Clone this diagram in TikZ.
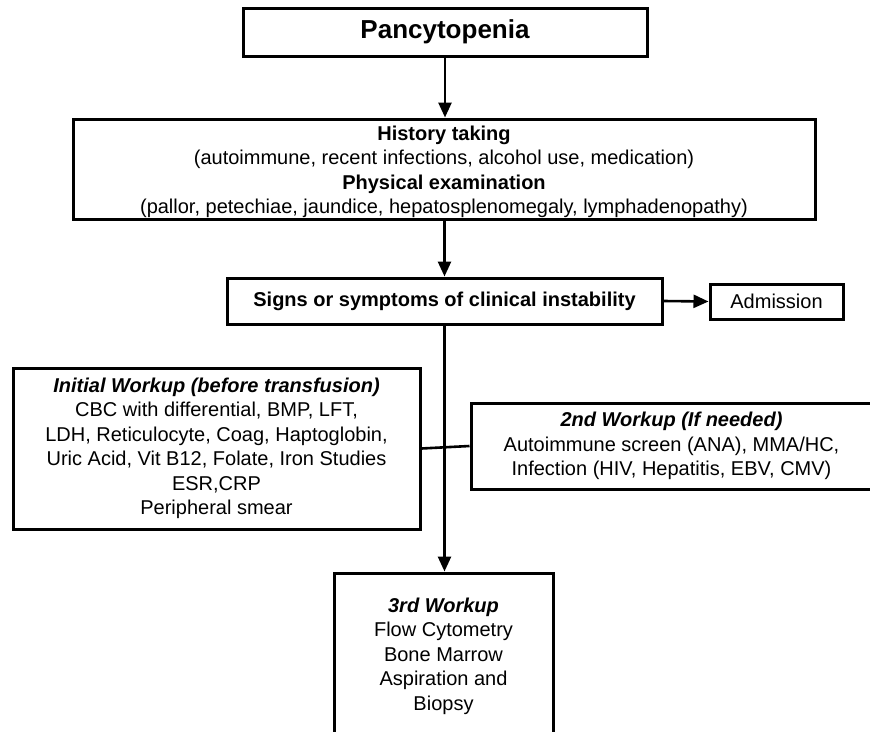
\documentclass[tikz,border=0pt]{standalone}
\usepackage{fontspec}
\setmainfont{Liberation Sans}
\usetikzlibrary{arrows.meta}
\begin{document}
\begin{tikzpicture}[x=1pt,y=-1pt,
 box/.style={draw,line width=3pt,align=center,inner sep=0pt,font=\fontsize{20}{24.5}\selectfont},
 conn/.style={line width=2.6pt},
 arr/.style={conn,-{Triangle[length=15pt,width=13pt]}}]
\useasboundingbox (0,0) rectangle (870,731);
\node[box,minimum width=404pt,minimum height=48pt,font=\fontsize{26}{30}\selectfont\bfseries] (pan) at (445,32) {Pancytopenia};
\node[box,minimum width=742pt,minimum height=100pt] (hist) at (444,169) {};
\node[align=center,inner sep=0pt,font=\fontsize{20}{24.5}\selectfont] (histtext) at (444,172) {\textbf{History taking}\\(autoimmune, recent infections, alcohol use, medication)\\\textbf{Physical examination}\\(pallor, petechiae, jaundice, hepatosplenomegaly, lymphadenopathy)};
\node[box,minimum width=435pt,minimum height=46pt] (signs) at (444.5,301) {\textbf{Signs or symptoms of clinical instability}};
\node[box,minimum width=133pt,minimum height=35pt] (adm) at (776.5,301.5) {Admission};
\node[box,minimum width=407pt,minimum height=161pt] (init) at (216.5,448.5) {\textbf{\textit{Initial Workup (before transfusion)}}\\CBC with differential, BMP, LFT,\\LDH, Reticulocyte, Coag, Haptoglobin,\\Uric Acid, Vit B12, Folate, Iron Studies\\ESR,CRP\\Peripheral smear};
\node[box,minimum width=401pt,minimum height=86pt] (w2) at (671.5,446) {\textbf{\textit{2nd Workup (If needed)}}\\Autoimmune screen (ANA), MMA/HC,\\Infection (HIV, Hepatitis, EBV, CMV)};
\node[box,minimum width=219pt,minimum height=166pt] (w3) at (443.5,656) {\textbf{\textit{3rd Workup}}\\Flow Cytometry\\Bone Marrow\\Aspiration and\\Biopsy};
\draw[arr] (pan.south) -- (pan.south |- hist.north);
\draw[arr] (signs.north |- hist.south) -- (signs.north);
\draw[arr] (signs.east) -- (adm.west);
\draw[arr] (signs.south) -- (signs.south |- w3.north);
\draw[conn] (init.east) -- (w2.west);
\end{tikzpicture}
\end{document}
